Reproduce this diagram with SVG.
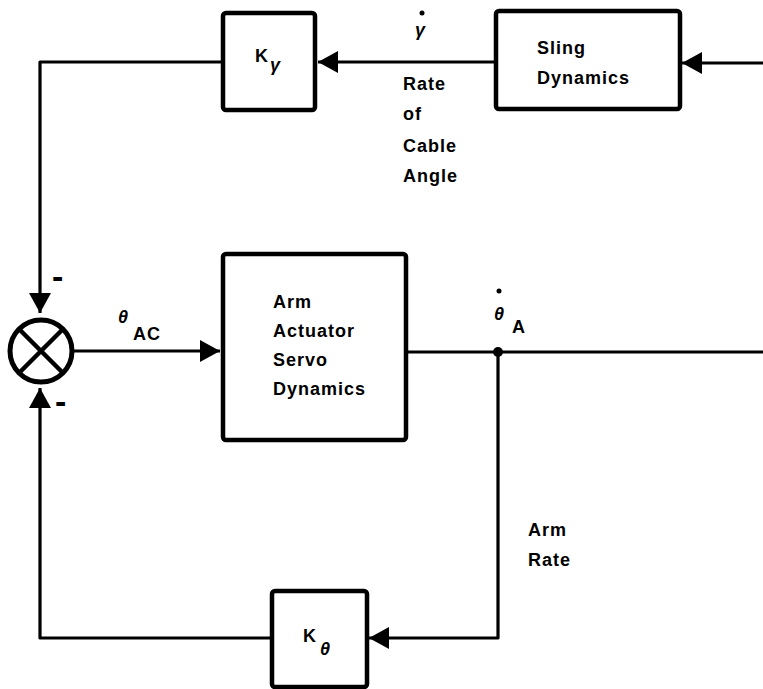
<svg xmlns="http://www.w3.org/2000/svg" width="763" height="689" viewBox="0 0 763 689">
<style>
.box{fill:#fff;stroke:#000;stroke-width:4.5;stroke-linejoin:round}
.ln{fill:none;stroke:#000;stroke-width:3.2;stroke-linejoin:round}
.t{font-family:"Liberation Sans",Arial,sans-serif;font-weight:bold;font-size:18px;letter-spacing:1px;fill:#000}
.g{font-family:"Liberation Sans",Arial,sans-serif;font-style:italic;font-weight:bold;font-size:18px;fill:#000}
.m{font-family:"Liberation Sans",Arial,sans-serif;font-weight:bold;font-size:34px;fill:#000}
</style>
<defs>
<marker id="ah" viewBox="0 0 20 22" refX="20" refY="11" markerWidth="20" markerHeight="22" markerUnits="userSpaceOnUse" orient="auto">
<path d="M0,0 L20,11 L0,22 Z" fill="#000"/>
</marker>
</defs>
<rect width="763" height="689" fill="#fff"/>
<g id="connectors">
<path class="ln" d="M763,63 L682,63" marker-end="url(#ah)"/>
<path class="ln" d="M495,62 L318,62" marker-end="url(#ah)"/>
<path class="ln" d="M222,62 L40,62 L40,313" marker-end="url(#ah)"/>
<path class="ln" d="M74,351 L220,351" marker-end="url(#ah)"/>
<path class="ln" d="M407,352 L763,352"/>
<path class="ln" d="M498,352 L498,638 L369,638" marker-end="url(#ah)"/>
<path class="ln" d="M272,638 L40,638 L40,388" marker-end="url(#ah)"/>
<circle cx="498" cy="352" r="5" fill="#000"/>
</g>
<g id="sum">
<circle cx="41" cy="351" r="31" fill="#fff" stroke="#000" stroke-width="5"/>
<path d="M19,329 L63,373 M63,329 L19,373" stroke="#000" stroke-width="4.5"/>
<text class="m" x="52" y="288">-</text>
<text class="m" x="55" y="413">-</text>
</g>
<g id="k-gamma">
<rect class="box" x="223" y="13" width="92" height="97" rx="3"/>
<text class="t" x="255" y="62">K</text>
<text class="g" x="270" y="71">γ</text>
</g>
<g id="sling">
<rect class="box" x="496" y="11" width="184" height="98" rx="3"/>
<text class="t" x="537" y="54">Sling</text>
<text class="t" x="537" y="84">Dynamics</text>
</g>
<g id="gamma-label">
<circle cx="422" cy="13" r="2.5" fill="#000"/>
<text class="g" x="415" y="36">γ</text>
<text class="t" x="403" y="90">Rate</text>
<text class="t" x="403" y="120">of</text>
<text class="t" x="403" y="152">Cable</text>
<text class="t" x="403" y="182">Angle</text>
</g>
<g id="theta-ac">
<text class="g" x="118" y="323">θ</text>
<text class="t" x="133" y="340" font-size="19" letter-spacing="0.5">AC</text>
</g>
<g id="arm-actuator">
<rect class="box" x="223" y="254" width="183" height="186" rx="3"/>
<text class="t" x="273" y="308">Arm</text>
<text class="t" x="273" y="337">Actuator</text>
<text class="t" x="273" y="366">Servo</text>
<text class="t" x="273" y="395">Dynamics</text>
</g>
<g id="theta-a">
<circle cx="499" cy="291" r="2.5" fill="#000"/>
<text class="g" x="494" y="320" font-size="16">θ</text>
<text class="t" x="512" y="333" font-size="21" letter-spacing="0">A</text>
</g>
<g id="arm-rate">
<text class="t" x="528" y="536">Arm</text>
<text class="t" x="528" y="566">Rate</text>
</g>
<g id="k-theta">
<rect class="box" x="272" y="591" width="95" height="96" rx="3"/>
<text class="t" x="303" y="642">K</text>
<text class="g" x="320" y="655">θ</text>
</g>
</svg>
